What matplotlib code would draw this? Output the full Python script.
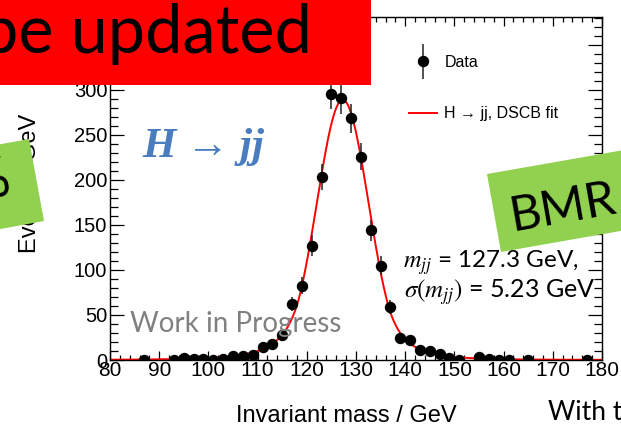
import numpy as np
import matplotlib.pyplot as plt
from matplotlib.patches import Polygon, Rectangle
from matplotlib.container import ErrorbarContainer
from matplotlib.legend_handler import HandlerErrorbar

plt.rcParams['font.family'] = ['Liberation Sans', 'DejaVu Sans']
plt.rcParams['mathtext.fontset'] = 'stix'

# dijet invariant mass, 2 GeV bins
mass = [87, 93, 95, 97, 99, 101, 103, 105, 107, 109, 111, 113, 115, 117, 119,
        121, 123, 125, 127, 129, 131, 133, 135, 137, 139, 141, 143, 145, 147,
        149, 151, 155, 157, 159, 161, 165, 177]
events = [0.3, 0.3, 2.6, 1.5, 1.5, 0.3, 1.5, 4.4, 4.4, 5.5, 14.8, 17.4, 27.8,
          62, 82.6, 127, 203, 295.6, 290.7, 268.5, 225.5, 144, 104.8, 59, 24.8,
          21.9, 11.5, 10.5, 6.5, 2.5, 0.3, 3.7, 0.8, 0.3, 0.3, 0.3, 0.3]
errors = [0.5, 0.5, 1.6, 1.2, 1.2, 0.5, 1.2, 2.1, 2.1, 2.3, 3.8, 4.2, 5.3,
          7.9, 9.1, 11.3, 14.2, 17.2, 17.0, 16.4, 15.0, 12.0, 10.2, 7.7, 5.0,
          4.7, 3.4, 3.2, 2.5, 1.6, 0.5, 1.9, 0.9, 0.5, 0.5, 0.5, 0.5]

# double-sided crystal ball fit result
fit_norm = 289.0
fit_mu = 127.3
fit_sigma = 5.23
fit_aL, fit_nL = 1.6, 4.0
fit_aR, fit_nR = 1.7, 4.0

W, H = 621, 433


def fx(px):
    return px / W


def fy(py):
    return 1 - py / H


def dscb(x, norm, mu, sigma, aL, nL, aR, nR):
    t = (x - mu) / sigma
    y = np.exp(-0.5 * t**2)
    left = t < -aL
    right = t > aR
    y[left] = np.exp(-0.5 * aL**2) * (1 + aL * (-t[left] - aL) / nL) ** (-nL)
    y[right] = np.exp(-0.5 * aR**2) * (1 + aR * (t[right] - aR) / nR) ** (-nR)
    return norm * y


fig = plt.figure(figsize=(W / 100, H / 100), dpi=100)
ax = fig.add_axes([fx(110), fy(360), 492 / W, 343 / H])

eb = ax.errorbar(mass, events, yerr=errors, fmt='o', color='black', ecolor='#222222',
                 ms=7.2, elinewidth=1.1, capsize=0, zorder=3)
xs = np.linspace(80, 180, 1000)
fit_line, = ax.plot(xs, dscb(xs, fit_norm, fit_mu, fit_sigma,
                             fit_aL, fit_nL, fit_aR, fit_nR),
                    color='red', lw=1.4, zorder=2)

ax.set_xlim(80, 180)
ax.set_ylim(0, 381)
ax.set_xticks(np.arange(80, 181, 10))
ax.set_xticks(np.arange(80, 181, 2), minor=True)
ax.set_yticks(np.arange(0, 351, 50))
ax.set_yticks(np.arange(0, 381, 10), minor=True)
ax.tick_params(which='both', direction='in', top=True, right=True, width=0.9)
ax.tick_params(axis='y', which='major', length=10, labelsize=14.5, pad=2)
ax.tick_params(axis='y', which='minor', length=5.5)
ax.tick_params(axis='x', which='major', length=6.5, labelsize=15, pad=1)
ax.tick_params(axis='x', which='minor', length=3.5)
for s in ax.spines.values():
    s.set_linewidth(1.0)

ax.set_xlabel('Invariant mass / GeV', fontsize=17)
ax.xaxis.set_label_coords(0.48, -0.13)
ax.set_ylabel('Events / GeV', fontsize=17)
ax.yaxis.set_label_coords(-0.14, 0.515)

ax.legend([eb, fit_line], ['Data', 'H → jj, DSCB fit'],
          handler_map={ErrorbarContainer: HandlerErrorbar(yerr_size=1.1)},
          loc='upper left', bbox_to_anchor=(fx(408.5), fy(55)),
          bbox_transform=fig.transFigure, frameon=False, fontsize=11.5,
          handlelength=1.8, handletextpad=0.44, labelspacing=2.28,
          borderpad=0, borderaxespad=0)

# slide annotations drawn over the plot
fig.text(fx(142), fy(157), 'H → jj', fontsize=31, color='#4a7cc0',
         family=['Liberation Serif', 'DejaVu Serif'], style='italic',
         weight='bold', va='baseline', zorder=6)
fig.text(fx(130), fy(332), 'Work in Progress', fontsize=20, color='#808080',
         family=['Lato', 'DejaVu Sans'], va='baseline', zorder=6)
fig.text(fx(403), fy(268), r'$m_{jj}$ = 127.3 GeV,', fontsize=17.5,
         family=['Lato', 'DejaVu Sans'], va='baseline', zorder=6)
fig.text(fx(404), fy(298), r'$\sigma\left(m_{jj}\right)$ = 5.23 GeV', fontsize=18,
         family=['Lato', 'DejaVu Sans'], va='baseline', zorder=6)
fig.text(fx(548), fy(420), 'With t', fontsize=19,
         family=['Lato', 'DejaVu Sans'], va='baseline', zorder=6)

fig.add_artist(Rectangle((0, fy(85)), fx(371), 85 / H, transform=fig.transFigure,
                         facecolor='#ff0000', edgecolor='none', zorder=5))
fig.text(fx(312), fy(53), 'To be updated', fontsize=48, color='black',
         family=['Lato', 'DejaVu Sans'], ha='right', va='baseline', zorder=6)

green = '#92d050'
left_box = [(29, 139), (44, 221), (-103, 248), (-118, 166)]
fig.add_artist(Polygon([(fx(a), fy(b)) for a, b in left_box], closed=True,
                       transform=fig.transFigure, facecolor=green,
                       edgecolor='none', zorder=5))
fig.text(fx(-12), fy(183), '%', fontsize=40, family=['Lato', 'DejaVu Sans'],
         ha='center', va='center', rotation=10, rotation_mode='anchor', zorder=6)

right_box = [(487, 174), (704, 136), (717, 214), (501, 252)]
fig.add_artist(Polygon([(fx(a), fy(b)) for a, b in right_box], closed=True,
                       transform=fig.transFigure, facecolor=green,
                       edgecolor='none', zorder=5))
fig.text(fx(563), fy(208), 'BMR', fontsize=35, family=['Lato', 'DejaVu Sans'],
         ha='center', va='center', rotation=10, rotation_mode='anchor', zorder=6)

fig.savefig('out.png', dpi=100)
